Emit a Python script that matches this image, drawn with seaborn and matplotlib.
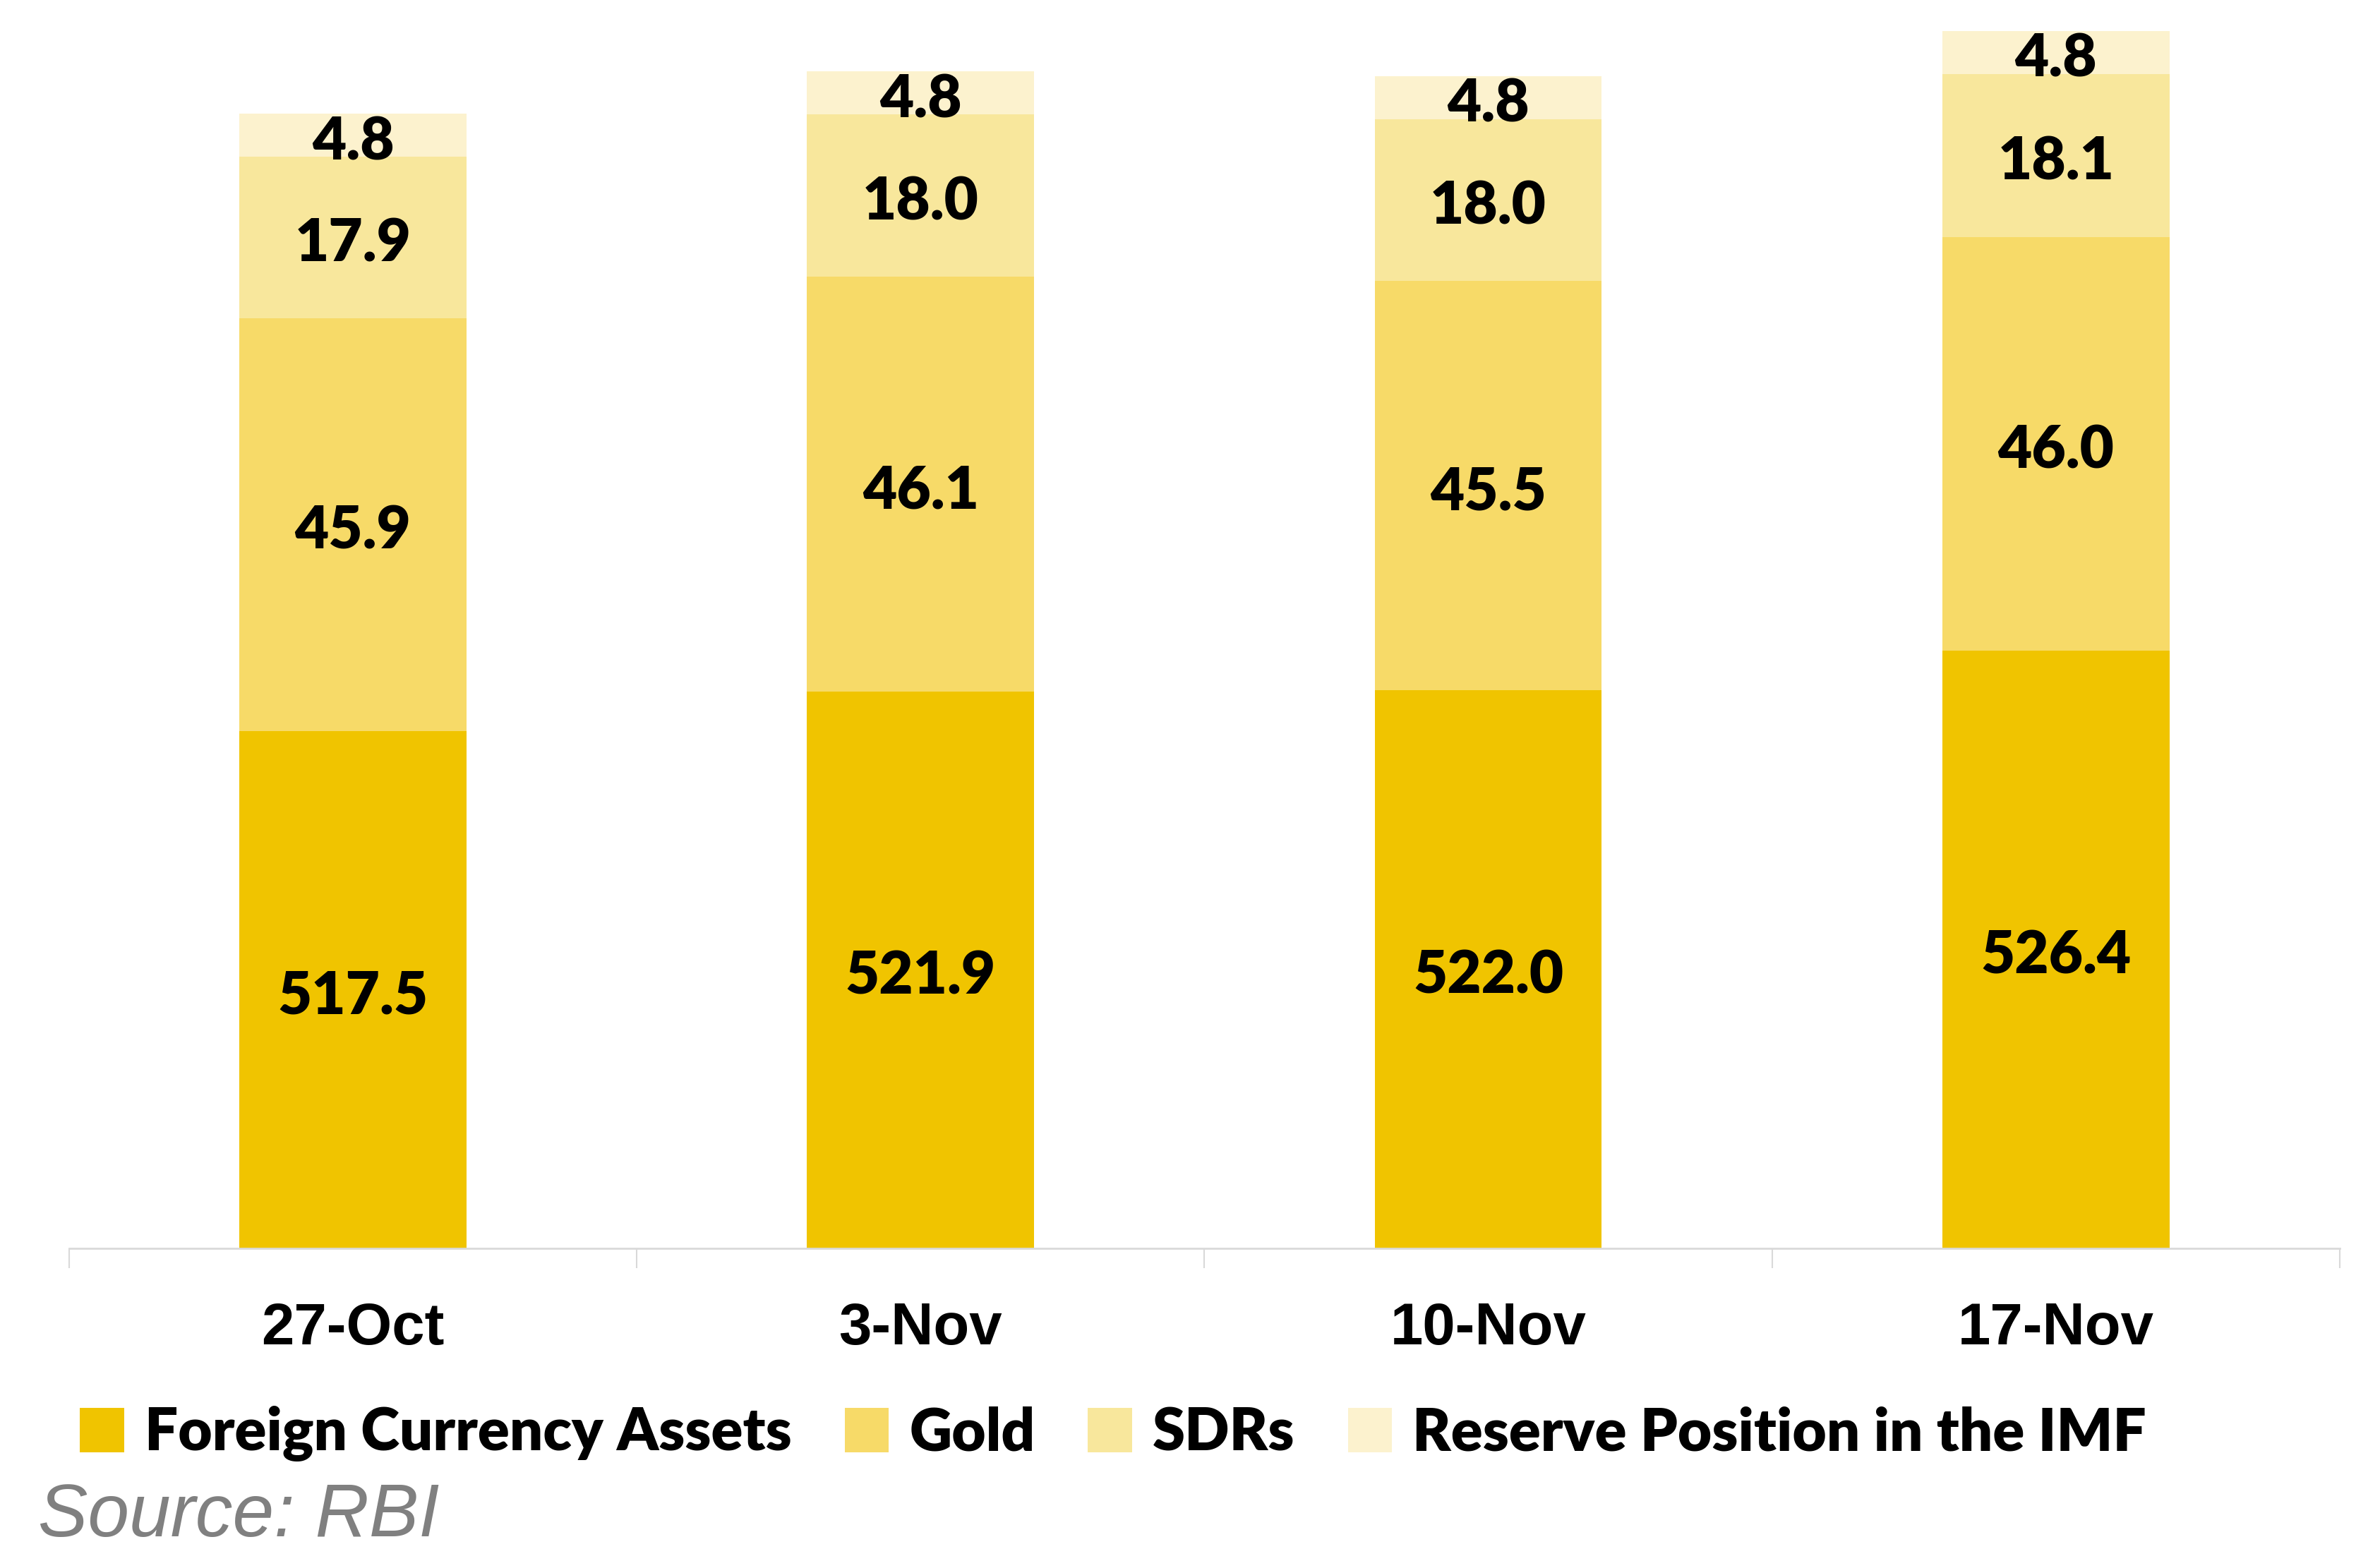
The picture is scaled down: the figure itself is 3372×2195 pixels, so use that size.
import matplotlib
matplotlib.use("Agg")
import matplotlib.pyplot as plt
import matplotlib.transforms as mtransforms
import seaborn as sns
import pandas as pd
import numpy as np
from matplotlib.patches import Patch

# Weekly foreign exchange reserves (USD bn), by component
dates = ["27-Oct", "3-Nov", "10-Nov", "17-Nov"]
fca = [517.5, 521.9, 522.0, 526.4]
gold = [45.9, 46.1, 45.5, 46.0]
sdrs = [17.9, 18.0, 18.0, 18.1]
imf = [4.8, 4.8, 4.8, 4.8]

series_names = ["Foreign Currency Assets", "Gold", "SDRs", "Reserve Position in the IMF"]
series_colors = ["#F0C400", "#F7DA68", "#F8E79C", "#FCF2CE"]

sns.set_theme(style="white")
plt.rcParams["font.family"] = ["Lato", "DejaVu Sans"]
plt.rcParams["text.color"] = "black"

df = pd.DataFrame({"date": dates, "fca": fca, "gold": gold, "sdrs": sdrs, "imf": imf})
layers = ["fca", "gold", "sdrs", "imf"]
cum = df[layers].cumsum(axis=1)

fig = plt.figure(figsize=(33.72, 21.95), dpi=100)
ax = fig.add_axes([0.02906, 0.1941, 0.954, 0.8132])

# stacked bars drawn as cumulative totals, tallest first
for i in range(len(layers) - 1, -1, -1):
    sns.barplot(x=df["date"], y=cum[layers[i]], color=series_colors[i],
                saturation=1, width=0.4, ax=ax, linewidth=0, zorder=2)

ymin = 460
ax.set_ylim(ymin, 600)
ax.set_xlim(-0.5, len(dates) - 0.5)

# value labels centred in each visible segment
label_tf = mtransforms.offset_copy(ax.transData, fig=fig, x=0, y=-7, units="points")
for j in range(len(dates)):
    for i, key in enumerate(layers):
        v = df[key][j]
        top = cum[key][j]
        bottom = max(top - v, ymin)
        ax.text(j, (bottom + top) / 2, f"{v:.1f}", ha="center", va="center",
                fontsize=60, fontweight="heavy", color="black", zorder=3,
                transform=label_tf)

ax.set_xlabel("")
ax.set_ylabel("")
ax.set_yticks([])
for s in ["left", "right", "top"]:
    ax.spines[s].set_visible(False)
ax.spines["bottom"].set_color("#D9D9D9")
ax.spines["bottom"].set_linewidth(2)

ax.set_xticks(range(len(dates)))
ax.set_xticklabels(dates, fontsize=60, fontweight="bold", color="black",
                   family=["Liberation Sans", "DejaVu Sans"])
ax.set_xticks(np.arange(-0.5, len(dates), 1.0), minor=True)
ax.tick_params(axis="x", which="major", bottom=False, length=0, pad=54)
ax.tick_params(axis="x", which="minor", bottom=True, length=20, width=1.5,
               color="#D9D9D9", direction="out")

handles = [Patch(facecolor=c, edgecolor="none") for c in series_colors]
leg = fig.legend(handles, series_names, loc="center", bbox_to_anchor=(0.4677, 0.0743),
                 ncol=4, frameon=False, handlelength=0.75, handleheight=0.8,
                 handletextpad=0.35, columnspacing=0.9,
                 prop={"family": ["Lato", "DejaVu Sans"], "weight": "heavy", "size": 60})
for t in leg.get_texts():
    t.set_color("black")

fig.text(0.016, 0.008, "Source: RBI", fontsize=76, style="italic", color="#808080",
         family=["Liberation Sans", "DejaVu Sans"], ha="left", va="baseline")

fig.savefig("out.png", dpi=100)
